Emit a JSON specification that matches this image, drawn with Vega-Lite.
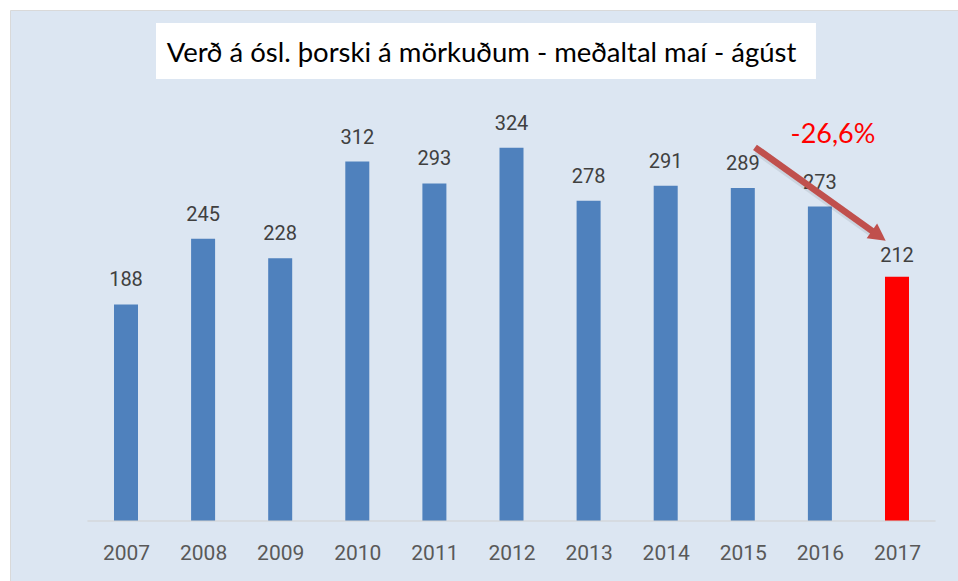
{
  "$schema": "https://vega.github.io/schema/vega-lite/v6.json",
  "width": 948,
  "height": 571,
  "autosize": {"type": "none"},
  "padding": {"left": 10, "top": 10, "right": 0, "bottom": 0},
  "background": "white",
  "view": {"fill": "#dce6f2", "stroke": "#d9d9d9", "strokeWidth": 1},
  "config": {"font": "Roboto", "scale": {"continuousPadding": 0}},
  "datasets": {
    "prices": [
      {"year": 2007, "price": 188},
      {"year": 2008, "price": 245},
      {"year": 2009, "price": 228},
      {"year": 2010, "price": 312},
      {"year": 2011, "price": 293},
      {"year": 2012, "price": 324},
      {"year": 2013, "price": 278},
      {"year": 2014, "price": 291},
      {"year": 2015, "price": 289},
      {"year": 2016, "price": 273},
      {"year": 2017, "price": 212}
    ],
    "one": [{"note": "annotation"}]
  },
  "layer": [
    {
      "data": {"name": "prices"},
      "layer": [
        {
          "mark": {"type": "bar", "width": 24},
          "encoding": {
            "x": {"field": "year", "type": "quantitative",
              "scale": {"domain": [2005.4955, 2017.7912], "nice": false, "zero": false, "padding": 0},
              "axis": {"values": [2007,2008,2009,2010,2011,2012,2013,2014,2015,2016,2017], "format": "d", "title": null,
                "domain": false, "ticks": false, "tickSize": 0, "grid": false, "labelPadding": -22, "labelBaseline": "alphabetic",
                "labelFont": "Roboto", "labelFontSize": 21, "labelColor": "#595959", "labelFlush": false, "labelOverlap": false}},
            "y": {"field": "price", "type": "quantitative",
              "scale": {"domain": [-52.083, 443.576], "nice": false, "zero": false, "padding": 0}, "axis": null},
            "y2": {"datum": 0},
            "color": {"condition": {"test": "datum.year === 2017", "value": "#ff0000"}, "value": "#4f81bd"}
          }
        },
        {
          "transform": [{"filter": "datum.year !== 2017"}],
          "mark": {"type": "text", "baseline": "alphabetic", "align": "center", "dy": -18, "fontSize": 20, "fill": "#404040"},
          "encoding": {
            "x": {"field": "year", "type": "quantitative"},
            "y": {"field": "price", "type": "quantitative"},
            "text": {"field": "price", "type": "quantitative"}
          }
        },
        {
          "transform": [{"filter": "datum.year === 2017"}],
          "mark": {"type": "text", "baseline": "alphabetic", "align": "center", "dy": -15, "fontSize": 20, "fill": "#404040"},
          "encoding": {
            "x": {"field": "year", "type": "quantitative"},
            "y": {"field": "price", "type": "quantitative"},
            "text": {"field": "price", "type": "quantitative"}
          }
        }
      ]
    },
    {
      "data": {"name": "one"},
      "layer": [
        {
          "mark": {"type": "rule", "color": "#d0d0d0", "strokeWidth": 1},
          "encoding": {"x": {"datum": 2006.5}, "x2": {"datum": 2017.5}, "y": {"datum": 0}}
        },
        {
          "mark": {"type": "rect", "fill": "white"},
          "encoding": {"x": {"datum": 2007.389}, "x2": {"datum": 2015.949}, "y": {"datum": 432.3}, "y2": {"datum": 383.7}}
        },
        {
          "mark": {"type": "text", "text": "Verð á ósl. þorski á mörkuðum - meðaltal maí - ágúst", "baseline": "alphabetic", "align": "center", "font": "Lato", "fontSize": 27.5, "fill": "#000000"},
          "encoding": {"x": {"datum": 2011.611}, "y": {"datum": 398.4}}
        },
        {
          "mark": {"type": "rule", "stroke": "#000000", "strokeOpacity": 0.08, "strokeWidth": 9},
          "encoding": {"x": {"datum": 2015.184}, "x2": {"datum": 2016.719}, "y": {"datum": 321.8}, "y2": {"datum": 248.3}}
        },
        {
          "mark": {"type": "rule", "color": "#c0504d", "strokeWidth": 6.5},
          "encoding": {"x": {"datum": 2015.158}, "x2": {"datum": 2016.693}, "y": {"datum": 324.4}, "y2": {"datum": 250.9}}
        },
        {
          "mark": {"type": "point", "shape": "M -0.85 -0.9 L 0.85 0 L -0.85 0.9 Z", "filled": true, "fill": "#c0504d", "strokeWidth": 0, "opacity": 1, "size": 400, "angle": 35.5},
          "encoding": {"x": {"datum": 2016.764}, "y": {"datum": 247.57}}
        },
        {
          "mark": {"type": "text", "text": "-26,6%", "baseline": "alphabetic", "align": "center", "font": "Lato", "fontSize": 27, "fill": "#ff0000"},
          "encoding": {"x": {"datum": 2016.17}, "y": {"datum": 327.9}}
        }
      ]
    }
  ]
}
